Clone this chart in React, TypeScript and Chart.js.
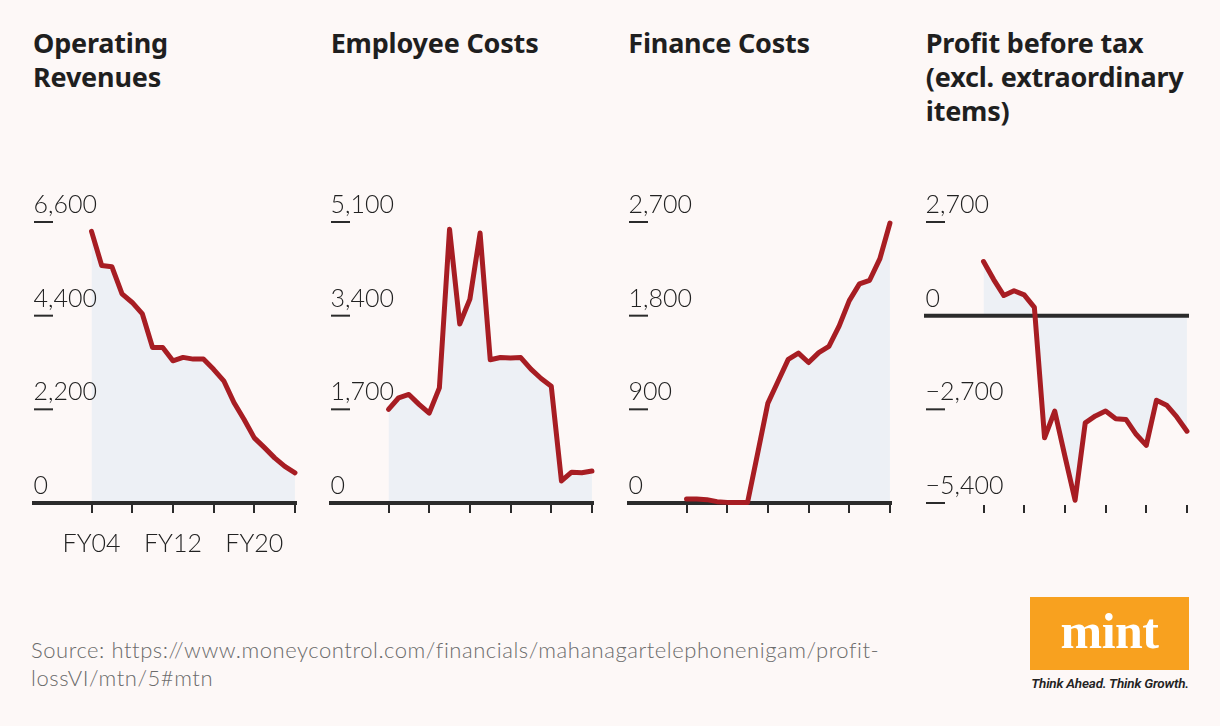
import React, { useEffect, useRef } from "react";
import { Chart, registerables } from "chart.js";

Chart.register(...registerables);

// ---- data ----
const years = [2004, 2005, 2006, 2007, 2008, 2009, 2010, 2011, 2012, 2013, 2014, 2015, 2016, 2017, 2018, 2019, 2020, 2021, 2022, 2023, 2024];
const operatingRevenues = [6380, 5580, 5550, 4910, 4710, 4440, 3650, 3650, 3340, 3420, 3380, 3380, 3140, 2870, 2360, 1960, 1530, 1300, 1060, 860, 710];
const employeeCosts = [1700, 1910, 1970, 1790, 1630, 2090, 4970, 3250, 3700, 4900, 2600, 2640, 2630, 2640, 2430, 2260, 2120, 400, 560, 550, 580];
const financeCosts = [39, 39, 32, 13, 6, 5, 4, 480, 960, 1170, 1380, 1440, 1350, 1445, 1505, 1700, 1945, 2105, 2140, 2345, 2690];
const profitBeforeTax = [1560, 1040, 580, 720, 600, 240, -3520, -2750, -4050, -5320, -3090, -2890, -2750, -2970, -2990, -3420, -3740, -2440, -2580, -2920, -3330];

const xTickYears = [2004, 2008, 2012, 2016, 2020, 2024];
const xLabelYears = [2004, 2012, 2020];

const revenueTicks = [0, 2200, 4400, 6600];
const employeeTicks = [0, 1700, 3400, 5100];
const financeTicks = [0, 900, 1800, 2700];
const profitTicks = [-5400, -2700, 0, 2700];

const titles = [
  ["Operating", "Revenues"],
  ["Employee Costs"],
  ["Finance Costs"],
  ["Profit before tax", "(excl. extraordinary", "items)"],
];

const sourceLines = [
  "Source: https://www.moneycontrol.com/financials/mahanagartelephonenigam/profit-",
  "lossVI/mtn/5#mtn",
];

// ---- layout / style ----
const BG = "#fdf8f7";
const INK = "#2b2b2b";
const LINE = "#a71d23";
const FILL = "#edf0f5";
const panelLefts = [31.5, 329.2, 626.8, 924.3];
const CANVAS_TOP = 180;
const CANVAS_W = 290;
const CANVAS_H = 390;
const PAD = { left: 10, right: 15, top: 42, bottom: 67 };

type PanelCfg = {
  values: number[];
  ticks: number[];
  axisValue: number;
  showYearLabels: boolean;
};

const panelCfgs: PanelCfg[] = [
  { values: operatingRevenues, ticks: revenueTicks, axisValue: 0, showYearLabels: true },
  { values: employeeCosts, ticks: employeeTicks, axisValue: 0, showYearLabels: false },
  { values: financeCosts, ticks: financeTicks, axisValue: 0, showYearLabels: false },
  { values: profitBeforeTax, ticks: profitTicks, axisValue: 0, showYearLabels: false },
];

function fmt(v: number): string {
  const s = Math.abs(v).toLocaleString("en-US");
  return v < 0 ? "\u2212" + s : s;
}

function Panel({ cfg, left }: { cfg: PanelCfg; left: number }) {
  const ref = useRef<HTMLCanvasElement | null>(null);
  useEffect(() => {
    if (!ref.current) return;
    const yMin = Math.min(...cfg.ticks);
    const yMax = Math.max(...cfg.ticks);
    const decor = {
      id: "decor",
      beforeDatasetDraw(chart: any) {
        const { ctx, chartArea, scales } = chart;
        const y0 = scales.y.getPixelForValue(cfg.axisValue);
        ctx.save();
        ctx.strokeStyle = INK;
        ctx.lineWidth = 4;
        ctx.beginPath();
        ctx.moveTo(chartArea.left, y0);
        ctx.lineTo(chartArea.right, y0);
        ctx.stroke();
        ctx.restore();
      },
      afterDraw(chart: any) {
        const { ctx, chartArea, scales } = chart;
        const xs = scales.x;
        const ys = scales.y;
        ctx.save();
        // x ticks
        ctx.strokeStyle = INK;
        ctx.lineWidth = 2;
        xTickYears.forEach((yr) => {
          const px = Math.round(xs.getPixelForValue(yr));
          ctx.beginPath();
          ctx.moveTo(px, chartArea.bottom + 2);
          ctx.lineTo(px, chartArea.bottom + 10);
          ctx.stroke();
        });
        // y ticks labels + dashes
        ctx.fillStyle = "#222";
        ctx.font = "300 25px Lato";
        ctx.textAlign = "left";
        ctx.textBaseline = "alphabetic";
        cfg.ticks.forEach((t) => {
          const py = ys.getPixelForValue(t);
          ctx.fillText(fmt(t), chartArea.left + 1.5, py - 9);
          if (t !== cfg.axisValue) {
            ctx.beginPath();
            ctx.moveTo(chartArea.left + 2, py);
            ctx.lineTo(chartArea.left + 21, py);
            ctx.stroke();
          }
        });
        if (cfg.showYearLabels) {
          ctx.textAlign = "center";
          xLabelYears.forEach((yr) => {
            const px = xs.getPixelForValue(yr);
            ctx.fillText("FY" + String(yr).slice(2), px, chartArea.bottom + 49);
          });
        }
        ctx.restore();
      },
    };
    const chart = new Chart(ref.current, {
      type: "line",
      data: {
        datasets: [
          {
            data: years.map((yr, i) => ({ x: yr, y: cfg.values[i] })),
            borderColor: LINE,
            borderWidth: 5,
            backgroundColor: FILL,
            fill: "origin",
            pointRadius: 0,
            tension: 0,
            borderJoinStyle: "round",
            borderCapStyle: "round",
            clip: false,
          } as any,
        ],
      },
      options: {
        responsive: false,
        animation: false,
        layout: { padding: PAD },
        plugins: { legend: { display: false }, tooltip: { enabled: false } },
        scales: {
          x: { type: "linear", display: false, min: 1998.15, max: 2024.2 },
          y: { type: "linear", display: false, min: yMin, max: yMax },
        },
      },
      plugins: [decor],
    });
    return () => chart.destroy();
  }, [cfg]);
  return (
    <canvas
      ref={ref}
      width={CANVAS_W}
      height={CANVAS_H}
      style={{ position: "absolute", left: left - PAD.left, top: CANVAS_TOP, width: CANVAS_W, height: CANVAS_H }}
    />
  );
}

export default function App() {
  return (
    <div
      style={{
        position: "absolute",
        left: 0,
        top: 0,
        width: 1220,
        height: 726,
        background: BG,
        overflow: "hidden",
      }}
    >
      {titles.map((lines, i) => (
        <div
          key={i}
          style={{
            position: "absolute",
            left: panelLefts[i] + 1.5,
            top: 26,
            font: "700 27px 'Noto Sans'",
            lineHeight: "34px",
            color: "#1f1f1f",
            whiteSpace: "nowrap",
            letterSpacing: "-0.2px",
          }}
        >
          {lines.map((l, j) => (
            <div key={j}>{l}</div>
          ))}
        </div>
      ))}
      {panelCfgs.map((cfg, i) => (
        <Panel key={i} cfg={cfg} left={panelLefts[i]} />
      ))}
      <div
        style={{
          position: "absolute",
          left: 31,
          top: 636,
          font: "300 22px Lato",
          lineHeight: "28px",
          color: "#6b6b6b",
          whiteSpace: "nowrap",
          letterSpacing: "0.55px",
        }}
      >
        {sourceLines.map((l, j) => (
          <div key={j}>{l}</div>
        ))}
      </div>
      <div
        style={{
          position: "absolute",
          left: 1030,
          top: 597,
          width: 159,
          height: 73,
          background: "#f8a11f",
          display: "flex",
          alignItems: "center",
          justifyContent: "center",
        }}
      >
        <span
          style={{
            font: "700 50px 'Liberation Serif'",
            color: "#fff",
            lineHeight: "50px",
            marginTop: -6,
            letterSpacing: "-0.5px",
          }}
        >
          mint
        </span>
      </div>
      <div
        style={{
          position: "absolute",
          left: 1029,
          top: 675,
          width: 162,
          textAlign: "center",
          font: "italic 600 13.5px Roboto",
          color: "#222",
          whiteSpace: "nowrap",
          letterSpacing: "-0.2px",
        }}
      >
        Think Ahead. Think Growth.
      </div>
    </div>
  );
}
